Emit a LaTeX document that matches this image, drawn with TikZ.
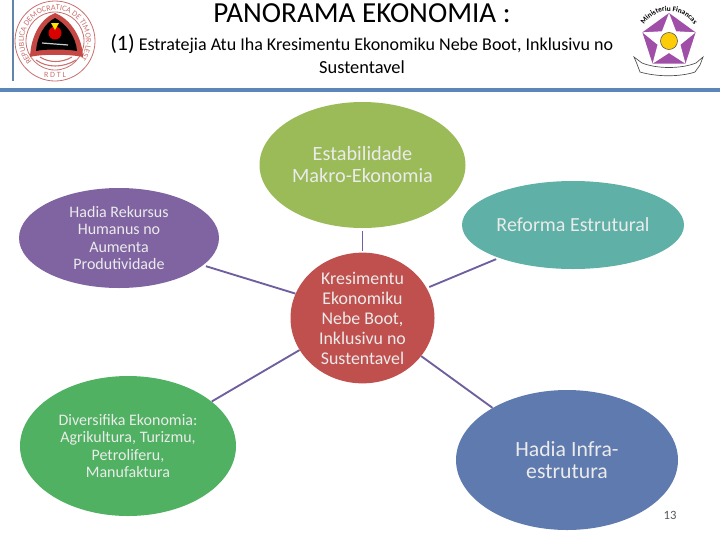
\documentclass[tikz,border=0pt]{standalone}
\usepackage{fontspec}
\setmainfont{Carlito}
\usetikzlibrary{shapes.geometric,decorations.text}
\definecolor{cgreen}{HTML}{9BBB59}
\definecolor{cpurple}{HTML}{8064A2}
\definecolor{cteal}{HTML}{5FB0A6}
\definecolor{cred}{HTML}{C0504D}
\definecolor{cgreenb}{HTML}{4FB161}
\definecolor{cblue}{HTML}{5F7AAE}
\definecolor{cband}{HTML}{5B87B8}
\definecolor{cline}{HTML}{6F5F9F}
\definecolor{cmag}{HTML}{A04FA8}
\definecolor{cseal}{HTML}{C8706E}
\tikzset{
  x=0.75pt,y=-0.75pt,
  blob/.style={ellipse,inner sep=0pt,minimum width=#1,align=center,text=white!92!black},
  link/.style={draw=cline,line width=1.4pt},
  seal/.style={draw=cseal,line width=0.6pt}
}
\begin{document}
\begin{tikzpicture}
\useasboundingbox (0,0) rectangle (720,540);
% header rules
\fill[cband] (0,88) rectangle (720,92);
\draw[draw=cband!80!gray,line width=0.8pt] (13,0) -- (13,81);
% titles
\node[font=\fontsize{21.8}{24}\selectfont,inner sep=0pt] (title) at (362,13) {PANORAMA EKONOMIA :};
\node[font=\fontsize{13.5}{15}\selectfont,inner sep=0pt,anchor=west] (sub) at (110,44) {{\fontsize{16.5}{16}\selectfont (1)} Estratejia Atu Iha Kresimentu Ekonomiku Nebe Boot, Inklusivu no};
\node[font=\fontsize{13.8}{15}\selectfont,inner sep=0pt] (sub2) at (362,67) {Sustentavel};
% left seal
\draw[seal] (55,41) circle (40);
\draw[seal] (55,41) circle (29);
\begin{scope}[shift={(55,41)},x=0.75pt,y=0.75pt]
\path[decorate,decoration={text along path,text align=center,
  text={|\fontsize{6}{6}\selectfont\color{cseal}|REPUBLICA DEMOCRATICA DE TIMOR-LESTE}}] (215:31) arc (215:-35:31);
\end{scope}
\node[font=\fontsize{6}{6}\selectfont,text=cseal,inner sep=0pt] (rdtl) at (55,75) {R D T L};
\fill[cred!90!red] (55,13) .. controls (68,18) and (82,34) .. (83,57) .. controls (70,54) and (40,54) .. (30,57) .. controls (31,34) and (42,18) .. (55,13) -- cycle;
\fill[black] (55,18) .. controls (65,23) and (76,36) .. (77,51) .. controls (66,49) and (44,49) .. (36,51) .. controls (37,36) and (45,23) .. (55,18) -- cycle;
\fill[red!85!black] (55,33) circle (6.5);
\fill[yellow!85!orange] (51,23) -- (59,23) -- (55,30) -- cycle;
\draw[white!80!black,line width=0.9pt] (42,43) -- (68,45);
\draw[seal,line width=0.8pt] (36,60) .. controls (47,68) and (63,68) .. (76,60);
\draw[seal,line width=0.8pt] (40,57) .. controls (49,63) and (62,63) .. (72,57);
% right seal
\begin{scope}[shift={(669,41)}]
\fill[cmag] (-90:28) -- (-18:28) -- (54:28) -- (126:28) -- (198:28) -- cycle;
\fill[white] (-90:28) -- (-54:12) -- (-18:28) -- (18:12) -- (54:28) -- (90:12) -- (126:28) -- (162:12) -- (198:28) -- (234:12) -- cycle;
\fill[yellow!65!orange] (0,0) circle (8.5);
\draw[black!70,line width=0.4pt] (0,0) circle (8.5);
\end{scope}
\begin{scope}[shift={(669,41)},x=0.75pt,y=0.75pt]
\path[decorate,decoration={text along path,text align=center,
  text={|\fontsize{5.5}{6}\selectfont\bfseries|Ministeriu Financas}}] (150:30) arc (150:30:30);
\end{scope}
\draw[black!70,line width=0.5pt,fill=white] (634,57) -- (642,63) .. controls (657,69) and (681,69) .. (696,63) -- (703,57) -- (700,65) -- (695,72) .. controls (680,77) and (657,77) .. (640,72) -- (637,64) -- cycle;
% blobs
\node[blob=206*0.75pt,minimum height=126*0.75pt,fill=cgreen,font=\fontsize{15.2}{16.5}\selectfont] (top) at (362.5,165) {Estabilidade\\Makro-Ekonomia};
\node[blob=200*0.75pt,minimum height=100*0.75pt,fill=cpurple,font=\fontsize{12}{13.2}\selectfont] (lt) at (119,238) {Hadia Rekursus\\Humanus no\\Aumenta\\Produtividade};
\node[blob=222*0.75pt,minimum height=88*0.75pt,fill=cteal,font=\fontsize{15}{16}\selectfont] (rt) at (573,225) {Reforma Estrutural};
\node[blob=144*0.75pt,minimum height=129*0.75pt,fill=cred,font=\fontsize{13.4}{15}\selectfont] (mid) at (362.5,318) {Kresimentu\\Ekonomiku\\Nebe Boot,\\Inklusivu no\\Sustentavel};
\node[blob=216*0.75pt,minimum height=140*0.75pt,fill=cgreenb,font=\fontsize{12}{13.2}\selectfont] (lb) at (128,446) {Diversifika Ekonomia:\\Agrikultura, Turizmu,\\Petroliferu,\\Manufaktura};
\node[blob=222*0.75pt,minimum height=140*0.75pt,fill=cblue,font=\fontsize{16.3}{17}\selectfont] (rb) at (567,460) {Hadia Infra-\\estrutura};
% connectors
\draw[link,shorten <=2.2pt,shorten >=0.8pt] (top.south) -- (mid.north);
\draw[link,shorten <=2.2pt] (lt.-18) -- (mid.160);
\draw[link,shorten <=2.2pt,shorten >=2pt] (rt.204) -- (mid.25);
\draw[link] (lb.28) -- (mid.207);
\draw[link] (rb.145) -- (mid.-33);
% page number
\node[font=\fontsize{9.5}{10}\selectfont,text=black!65,inner sep=0pt] (page) at (670,515) {13};
\end{tikzpicture}
\end{document}
